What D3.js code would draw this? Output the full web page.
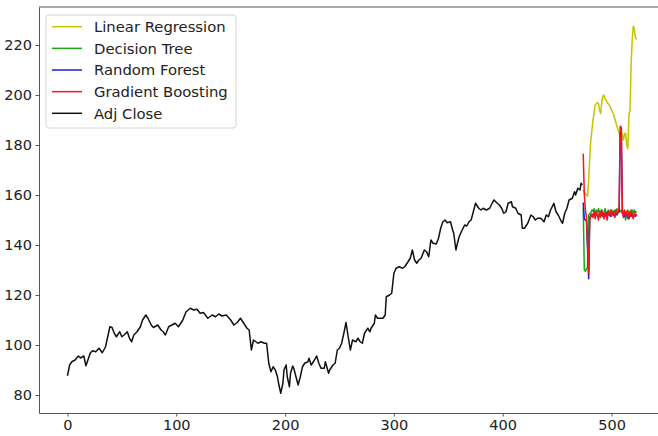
<!DOCTYPE html>
<html>
<head>
<meta charset="utf-8">
<script src="https://cdn.jsdelivr.net/npm/d3@7"></script>
<style>
  body { margin: 0; background: #fff; }
  svg text { font-family: "DejaVu Sans", sans-serif; fill: #222; }
</style>
</head>
<body>
<div id="chart"></div>
<script>
// Stock price + model predictions chart

// Adj Close: [day index, price]
const adjClose = [
  [0, 87.7], [2, 92], [4, 93.3], [7, 94], [10, 95.6], [12, 94.8], [15, 95.6], [17, 91.7],
  [21, 96.8], [23, 97.7], [26, 97.3], [29, 98.7], [32, 96.9], [35, 99.3], [39, 107.3], [41, 107],
  [43, 104.7], [45, 103.3], [48, 105.3], [50, 103.3], [52, 104], [55, 105.3], [57, 102.7], [59, 101.3],
  [61, 104], [64, 105.3], [67, 107.3], [69, 110], [72, 112], [74, 110.7], [77, 108], [79, 107],
  [83, 108], [86, 106], [88, 105.3], [90, 104], [93, 107.3], [96, 108], [99, 108.7], [102, 107.3],
  [106, 110], [109, 113.3], [113, 114.7], [116, 114], [119, 114.3], [122, 112.7], [125, 113], [129, 110.7],
  [133, 112], [136, 111.3], [139, 112.4], [142, 111.6], [146, 112], [150, 110], [153, 108], [156, 109],
  [159, 110.7], [162, 108.7], [165, 106.7], [167, 106], [169, 98], [171, 102], [175, 100.7], [178, 101.3],
  [181, 100.7], [183, 100.7], [185, 92.7], [187, 89.3], [189, 91.3], [191, 90], [193, 87.3], [194, 84.7],
  [196, 80.7], [198, 84.7], [199, 90], [201, 92], [202, 87.3], [204, 83.3], [205, 88.7], [207, 91.6],
  [208, 90.7], [210, 87.3], [212, 84], [214, 87.3], [216, 91.3], [218, 92.7], [221, 93.3], [222, 94.7],
  [224, 92], [227, 94], [229, 95.6], [231, 92.7], [233, 90.7], [236, 90.7], [237, 93.3], [240, 88.7],
  [241, 90], [244, 92], [246, 92.7], [248, 98], [250, 98.7], [252, 100.7], [254, 104.7], [256, 109],
  [258, 103.3], [260, 98], [262, 102], [265, 101.3], [267, 102.7], [269, 101.3], [271, 100.7], [273, 104.7],
  [276, 106.7], [278, 105.3], [279, 106.7], [282, 108.7], [283, 112], [285, 110.7], [288, 110.7], [290, 110.7],
  [292, 112], [293, 119.3], [296, 120], [298, 120.7], [300, 128.7], [302, 130.7], [305, 131.3], [308, 130.7],
  [310, 131.3], [313, 133.3], [315, 134.7], [317, 138], [319, 134], [321, 132.7], [323, 134], [325, 134.7],
  [328, 138], [330, 137.3], [332, 135.3], [334, 142], [336, 140.7], [339, 140.4], [341, 142.7], [343, 146.7],
  [345, 149.3], [347, 150], [349, 148.9], [352, 149.3], [354, 146], [355, 144.7], [357, 138], [358, 140],
  [360, 143.3], [362, 145.3], [365, 148], [367, 147.6], [369, 149.3], [371, 150], [373, 153.3], [375, 156.7],
  [378, 154.7], [380, 154], [382, 154.7], [385, 154], [388, 154.7], [391, 157.3], [392, 158], [395, 156.7],
  [397, 156], [399, 154.7], [401, 152.7], [403, 153.3], [405, 156.7], [408, 157.3], [409, 155.3], [412, 154.7],
  [414, 152.7], [417, 152], [418, 146.7], [420, 146.7], [423, 148.7], [426, 152], [428, 151.3], [430, 150],
  [432, 150.7], [435, 150.7], [438, 149.3], [440, 152], [442, 151.3], [444, 154], [447, 156.7], [449, 153.3],
  [451, 152], [454, 149.3], [455, 148.7], [457, 152.7], [459, 154.7], [461, 158], [464, 158.7], [466, 161.3],
  [467, 160], [469, 162.7], [471, 162], [472, 164.7], [473, 164]
]

// predictions start on this day, one value per day
const predStart = 474

const linearReg = [
  162, 161, 160.5, 160, 159.5, 166, 175, 182, 186, 190,
  193, 196, 196.5, 197, 196.7, 194, 192.7, 197, 199.5, 200,
  198.5, 198, 197, 196.5, 196, 195, 194, 193, 192, 190.5,
  189, 187.5, 186, 185, 183.5, 185.5, 184, 182, 184.5, 184.7,
  180, 178.5, 192, 194, 212, 222, 227.5, 226.3, 223, 222.3
]

const decisionTree = [
  155, 130, 129.5, 130.5, 131, 152, 152.5, 153, 154, 153.5,
  154.5, 152, 154, 153, 154.5, 152.5, 153.5, 154, 152, 153,
  154.5, 153, 152.5, 154, 153, 152, 154, 153.5, 152.5, 154,
  153, 154.5, 153.5, 153, 153.5, 154, 152.5, 153.5, 152, 150,
  153, 154, 152.5, 153.5, 152, 154, 153, 154, 153, 153.5
]

const randomForest = [
  157, 150.5, 150, 149.5, 138, 126.5, 151, 152, 151.5, 152,
  152.5, 151.5, 152.5, 152, 151, 152.5, 153, 152, 151.5, 152.5,
  152, 151.5, 153, 152, 152.5, 151.5, 152, 153, 152, 151.5,
  152.5, 152, 153, 153.5, 185, 184, 153, 152, 151.5, 153,
  152, 151, 150.5, 152, 151.5, 152.5, 151, 152, 151.5, 152
]

const gradientBoosting = [
  176.5, 160, 154, 151, 140, 128.5, 150.5, 151.5, 152.5, 151,
  153.5, 150.5, 153, 152, 150, 153.5, 151, 154, 152, 150.5,
  153, 152.5, 150, 153.5, 152, 154, 151.5, 152.5, 153.5, 151,
  154, 152.5, 153, 155, 187.5, 187, 153, 151, 154, 152,
  153.5, 150.5, 153, 151.5, 154, 152, 150.5, 153, 151.5, 152.5
]

const seriesNames = ['Linear Regression', 'Decision Tree', 'Random Forest', 'Gradient Boosting', 'Adj Close']
const seriesColors = ['#c4c400', '#18a818', '#1a1ae0', '#f01818', '#111111']

const xTicks = [0, 100, 200, 300, 400, 500]
const yTicks = [80, 100, 120, 140, 160, 180, 200, 220]

// Layout
var width = 658
var height = 436
var margin = { top: 7, right: -7, bottom: 23, left: 39 }

var svg = d3.select('#chart')
  .append('svg')
  .attr('width', width)
  .attr('height', height)

var x = d3.scaleLinear()
  .domain([-26.15, 549.15])
  .range([margin.left, width - margin.right])

var y = d3.scaleLinear()
  .domain([72.8, 235.2])
  .range([height - margin.bottom, margin.top])

svg.append('clipPath')
  .attr('id', 'plot-clip')
  .append('rect')
  .attr('x', margin.left)
  .attr('y', margin.top)
  .attr('width', width - margin.right - margin.left)
  .attr('height', height - margin.bottom - margin.top)

// Build series as [day, value]
const toPoints = arr => arr.map((v, i) => [predStart + i, v])
const allSeries = [
  toPoints(linearReg),
  toPoints(decisionTree),
  toPoints(randomForest),
  toPoints(gradientBoosting),
  adjClose
]

var line = d3.line()
  .x(d => x(d[0]))
  .y(d => y(d[1]))

var plot = svg.append('g').attr('clip-path', 'url(#plot-clip)')

plot.selectAll('path.series')
  .data(allSeries)
  .join('path')
  .attr('class', 'series')
  .attr('d', line)
  .attr('fill', 'none')
  .attr('stroke', (d, i) => seriesColors[i])
  .attr('stroke-width', 1.5)
  .attr('stroke-linejoin', 'round')

// Axes
var xAxis = svg.append('g')
  .attr('transform', `translate(0,${height - margin.bottom})`)
  .call(d3.axisBottom(x).tickValues(xTicks).tickSize(3.5).tickPadding(3.5).tickSizeOuter(0))

var yAxis = svg.append('g')
  .attr('transform', `translate(${margin.left},0)`)
  .call(d3.axisLeft(y).tickValues(yTicks).tickSize(3.5).tickPadding(3.5).tickSizeOuter(0))

svg.selectAll('.tick text').attr('font-size', 14.5).style('font-family', '"DejaVu Sans", sans-serif').attr('fill', '#222')
svg.selectAll('.domain, .tick line').attr('stroke', '#555').attr('stroke-width', 1)

// top spine (right spine falls outside the window)
svg.append('line')
  .attr('x1', margin.left)
  .attr('x2', width - margin.right)
  .attr('y1', margin.top)
  .attr('y2', margin.top)
  .attr('stroke', '#555')

// Legend
var legend = svg.append('g').attr('transform', 'translate(46,15)')

legend.append('rect')
  .attr('width', 190)
  .attr('height', 113)
  .attr('rx', 3)
  .attr('fill', 'rgba(255,255,255,0.8)')
  .attr('stroke', '#d4d4d4')

var rows = legend.selectAll('g.row')
  .data(seriesNames)
  .join('g')
  .attr('class', 'row')
  .attr('transform', (d, i) => `translate(0,${11.7 + i * 21.65})`)

rows.append('line')
  .attr('x1', 6)
  .attr('x2', 36)
  .attr('stroke', (d, i) => seriesColors[i])
  .attr('stroke-width', 1.5)

rows.append('text')
  .attr('x', 48)
  .attr('dy', '0.36em')
  .attr('font-size', 14.8)
  .text(d => d)
</script>
</body>
</html>
